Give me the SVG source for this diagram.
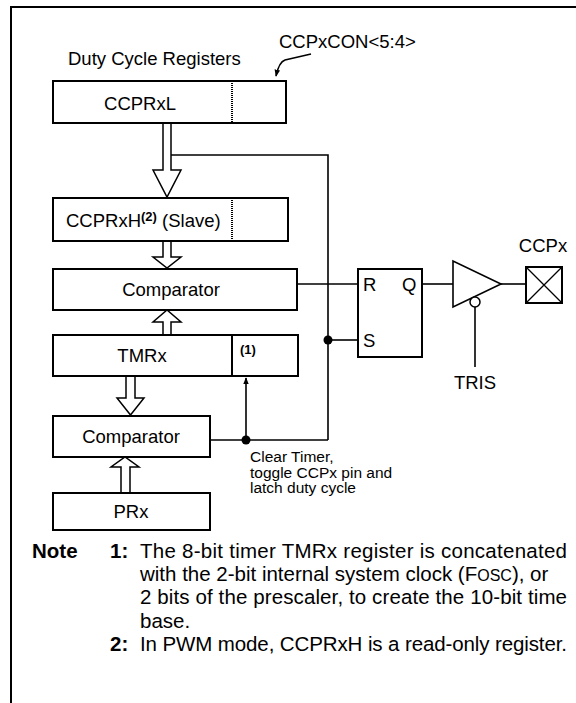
<svg xmlns="http://www.w3.org/2000/svg" width="576" height="703" viewBox="0 0 576 703">
<style>
text{font-family:"Liberation Sans",Arial,sans-serif;fill:#000}
.lbl{font-size:18.5px}
.sm{font-size:15.5px}
.c{text-anchor:middle}
.note{font-size:20.5px}
.b{font-weight:bold}
.box{fill:#fff;stroke:#000;stroke-width:2}
.w{fill:none;stroke:#000;stroke-width:1.6}
.bus{fill:#fff;stroke:#000;stroke-width:1.5;stroke-linejoin:miter}
.dot{fill:#000}
</style>
<defs>
<marker id="ah" viewBox="0 0 10 10" refX="9" refY="5" markerWidth="7" markerHeight="7" orient="auto" markerUnits="userSpaceOnUse">
<path d="M0,1 L10,5 L0,9 z" fill="#000"/>
</marker>
</defs>
<g id="frame">
<path d="M11,703 L11,7 L576,7" fill="none" stroke="#000" stroke-width="2"/>
</g>
<g id="labels">
<text class="lbl" x="68" y="65">Duty Cycle Registers</text>
<text class="lbl" x="279" y="48">CCPxCON&lt;5:4&gt;</text>
</g>
<g id="connectors">
<path class="w" d="M311,54 L285,60 Q279,62 276,76" marker-end="url(#ah)"/>
<path class="w" d="M171,155 L328,155 L328,440"/>
<path class="w" d="M297,284 L358,284"/>
<path class="w" d="M328,340 L358,340"/>
<path class="w" d="M210,440 L328,440"/>
<path class="w" d="M246,440 L246,378" marker-end="url(#ah)"/>
<path class="w" d="M422,284 L453,284"/>
<path class="w" d="M501,284 L526,284"/>
<path class="w" d="M475,307 L475,367"/>
<circle class="dot" cx="328" cy="340" r="4.5"/>
<circle class="dot" cx="246" cy="440" r="4.5"/>
<polygon class="bus" points="163,123 163,170 153,170 167,197 181,170 171,170 171,123"/>
<polygon class="bus" points="163,241 163,257 153,257 167,268 181,257 171,257 171,241"/>
<polygon class="bus" points="163,335 163,322 153,322 167,310 181,322 171,322 171,335"/>
<polygon class="bus" points="126,376 126,398 117,398 130.5,415 144,398 135,398 135,376"/>
<polygon class="bus" points="121,493 121,467 111,467 125,457 139,467 130,467 130,493"/>
</g>
<g id="ccprxl">
<rect class="box" x="53" y="81" width="233" height="42"/>
<line x1="232" y1="81" x2="232" y2="123" stroke="#000" stroke-width="2" stroke-dasharray="1,1"/>
<text class="lbl c" x="140" y="110">CCPRxL</text>
</g>
<g id="ccprxh">
<rect class="box" x="53" y="198" width="235" height="43"/>
<line x1="232" y1="198" x2="232" y2="241" stroke="#000" stroke-width="2" stroke-dasharray="1,1"/>
<text class="lbl" x="66" y="227">CCPRxH<tspan class="b" font-size="13" dy="-6">(2)</tspan><tspan dy="6"> (Slave)</tspan></text>
</g>
<g id="comparator1">
<rect class="box" x="53" y="269" width="244" height="41"/>
<text class="lbl c" x="171" y="296">Comparator</text>
</g>
<g id="tmrx">
<rect class="box" x="53" y="335" width="245" height="41"/>
<line x1="232" y1="335" x2="232" y2="376" stroke="#000" stroke-width="2"/>
<text class="lbl c" x="142" y="362">TMRx</text>
<text class="b" font-size="13" x="240" y="354">(1)</text>
</g>
<g id="comparator2">
<rect class="box" x="53" y="416" width="157" height="41"/>
<text class="lbl c" x="131" y="443">Comparator</text>
</g>
<g id="prx">
<rect class="box" x="53" y="493" width="157" height="37"/>
<text class="lbl c" x="131" y="518">PRx</text>
</g>
<g id="clear-label">
<text class="sm" x="250" y="462">Clear Timer,</text>
<text class="sm" x="250" y="477.5">toggle CCPx pin and</text>
<text class="sm" x="250" y="493">latch duty cycle</text>
</g>
<g id="flipflop">
<rect class="box" x="358" y="269" width="64" height="88"/>
<text class="lbl" x="363" y="291">R</text>
<text class="lbl" x="402" y="291">Q</text>
<text class="lbl" x="363" y="347">S</text>
</g>
<g id="buffer">
<polygon points="453,261 453,307 501,284" fill="#fff" stroke="#000" stroke-width="1.6"/>
<circle cx="475" cy="302" r="5" fill="#fff" stroke="#000" stroke-width="1.5"/>
</g>
<g id="tris">
<text class="lbl c" x="475" y="389">TRIS</text>
</g>
<g id="ccpx-pin">
<rect class="box" x="526" y="267" width="36" height="36"/>
<path d="M526,267 L562,303 M562,267 L526,303" stroke="#000" stroke-width="1.3"/>
<text class="lbl c" x="543" y="252">CCPx</text>
</g>
<g id="notes">
<text class="note b" x="32" y="558">Note</text>
<text class="note b" x="110" y="558">1:</text>
<text class="note" x="140" y="558" textLength="427" lengthAdjust="spacing">The 8-bit timer TMRx register is concatenated</text>
<text class="note" x="140" y="581">with the 2-bit internal system clock (F<tspan font-size="16">OSC</tspan>), or</text>
<text class="note" x="140" y="604" textLength="427" lengthAdjust="spacing">2 bits of the prescaler, to create the 10-bit time</text>
<text class="note" x="140" y="628">base.</text>
<text class="note b" x="110" y="651">2:</text>
<text class="note" x="140" y="651" textLength="427" lengthAdjust="spacing">In PWM mode, CCPRxH is a read-only register.</text>
</g>
</svg>
